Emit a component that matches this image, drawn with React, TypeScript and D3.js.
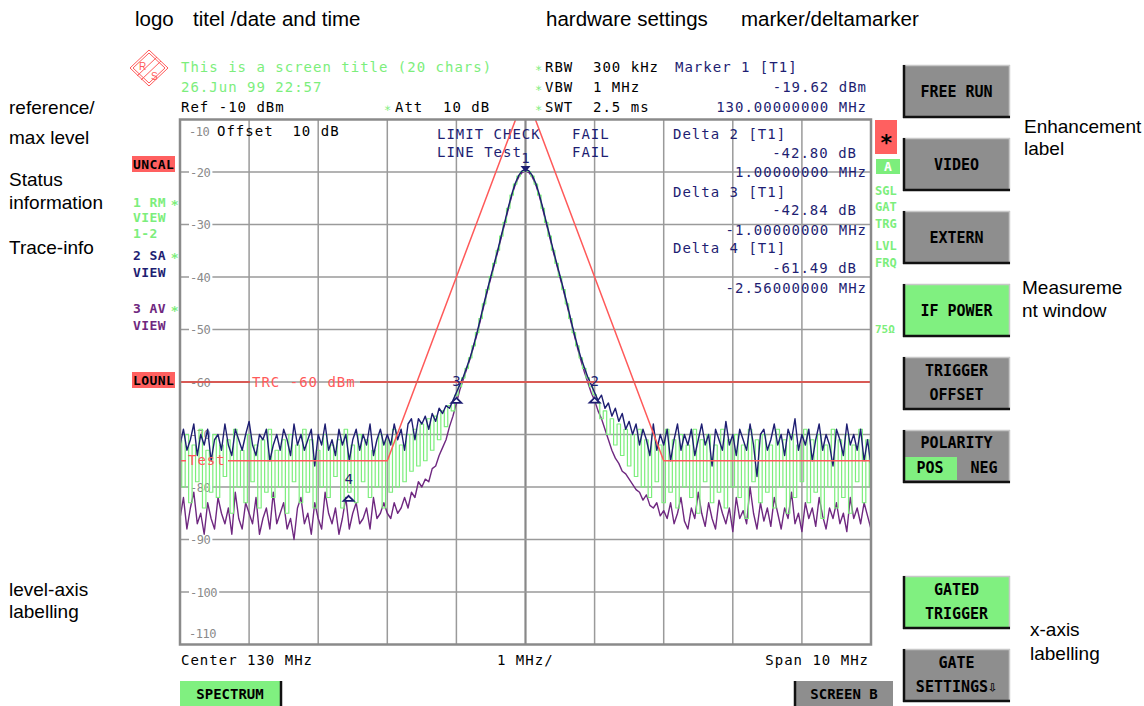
import React from 'react';
import * as d3 from 'd3';

// ---------- data ----------
const sweepMHz: number[] = d3.range(201).map((i) => -5 + i * 0.05); // sweep points, offset from 130 MHz

// Trace 1 (RMS, green)
const traceRM: number[] = [
  -71, -80, -70, -83, -72, -79, -69, -84, -73, -81,
  -70, -82, -72, -78, -71, -85, -69, -80, -73, -83,
  -70, -79, -72, -84, -71, -81, -69, -82, -73, -80,
  -71, -85, -70, -79, -72, -83, -69, -81, -71, -84,
  -73, -80, -70, -82, -72, -78, -71, -84, -69, -81,
  -72, -83, -70, -79, -71, -82, -73, -80, -70, -84,
  -71, -81, -69, -80, -72, -79, -70, -77, -69, -76,
  -68, -75, -67, -73, -66.5, -71, -65.5, -68.5, -64.5, -65.5, -62.5,
  -60.9, -59.2, -57.4, -55.4, -53.1, -50.6, -47.9, -45.1, -42.4, -39.9, -37.4, -34.9, -32.2, -29.6, -26.9, -24.4, -22.3, -20.8, -19.9,
  -19.6,
  -19.9, -20.8, -22.3, -24.4, -26.9, -29.6, -32.2, -34.9, -37.4, -39.9, -42.4, -45.1, -47.9, -50.6, -53.1, -55.4, -57.4, -59.2, -60.9,
  -62.4,
  -64, -67, -65.5, -70, -67, -72, -68, -74, -69, -76,
  -70, -78, -69, -80, -71, -82, -70, -79, -72, -83,
  -69, -81, -71, -84, -70, -80, -72, -82, -69, -85,
  -71, -79, -70, -83, -72, -81, -69, -84, -71, -80,
  -70, -82, -72, -86, -69, -79, -71, -83, -70, -81,
  -72, -84, -69, -80, -71, -85, -70, -82, -72, -79,
  -69, -83, -71, -81, -70, -86, -72, -80, -69, -84,
  -71, -82, -70, -85, -72, -79, -69, -83, -71, -80,
];

// Trace 2 (sample, navy)
const traceSA: number[] = [
  -72, -69, -73, -71, -68, -74, -70, -72, -69, -75,
  -71, -70, -73, -68, -72, -74, -69, -71, -73, -70,
  -67.5, -72, -74, -70, -71, -69, -75, -72, -70, -73,
  -69, -71, -74, -68, -72, -70, -73, -71, -69, -76,
  -70, -72, -68, -73, -71, -74, -69, -72, -70, -75,
  -71, -69, -73, -70, -72, -68, -74, -71, -69, -72,
  -70, -72, -68, -71, -69, -73, -68, -67, -71, -67,
  -68, -66.5, -69, -66, -67.5, -65, -66, -64.5, -65, -63.5, -62,
  -60.5, -59, -57.2, -55.3, -53, -50.5, -47.8, -45, -42.3, -39.8, -37.3, -34.8, -32.1, -29.5, -26.8, -24.3, -22.2, -20.7, -19.8,
  -19.5,
  -19.8, -20.7, -22.2, -24.3, -26.8, -29.5, -32.1, -34.8, -37.3, -39.8, -42.3, -45, -47.8, -50.5, -53, -55.3, -57.2, -59, -60.5,
  -62,
  -63.5, -62.5, -65, -64, -66.5, -65, -67.5, -66, -69, -67.5,
  -70, -68, -72, -69, -71, -74, -68, -73, -70, -72,
  -69, -75, -71, -68, -73, -70, -72, -69, -74, -71,
  -68, -72, -70, -76, -69, -71, -73, -67.5, -72, -70,
  -74, -69, -71, -73, -68, -72, -78, -70, -69, -73,
  -71, -68, -72, -70, -74, -69, -71, -67, -73, -70,
  -72, -69, -75, -71, -68, -73, -70, -72, -76, -69,
  -71, -74, -68, -72, -70, -73, -69, -75, -71, -76,
];

// Trace 3 (average, purple)
const traceAV: number[] = [
  -86, -82, -88, -84, -81, -87, -85, -89, -83, -86,
  -88, -82, -85, -87, -84, -89, -81, -86, -88, -83,
  -85, -87, -82, -89, -86, -84, -88, -81, -87, -85,
  -83, -88, -86, -90, -84, -82, -87, -85, -89, -83,
  -86, -88, -81, -85, -87, -84, -89, -86, -82, -88,
  -85, -83, -87, -86, -84, -88, -82, -86, -85, -83,
  -85, -86, -83, -85, -84, -82, -84, -81, -82, -79,
  -80, -78.5, -79, -76.5, -76, -74, -72.5, -71, -68.5, -66.5, -64,
  -61.5, -59.5, -57.5, -55.5, -53.2, -50.8, -48.1, -45.3, -42.6, -40.1, -37.6, -35.1, -32.4, -29.8, -27.1, -24.6, -22.5, -21, -20.1,
  -19.8,
  -20.1, -21, -22.5, -24.6, -27.1, -29.8, -32.4, -35.1, -37.6, -40.1, -42.6, -45.3, -48.1, -50.8, -53.4, -55.8, -58, -60, -62,
  -63.5,
  -65.5, -67, -69, -71, -73, -74.5, -75.5, -77, -77.5, -78.5,
  -79.5, -80.5, -81, -82.5, -81.5, -83.5, -84, -83, -85.5, -84.5,
  -86, -83, -87, -85, -82, -86.5, -88, -84, -86, -81,
  -85, -87.5, -83, -86, -88, -82.5, -85, -87, -84, -88.5,
  -82, -86, -84.5, -87, -80, -85, -88, -83, -86.5, -84,
  -87.5, -82, -85, -88, -84, -86, -81, -87, -85, -88.5,
  -83, -86, -84, -87.5, -82, -85.5, -88, -84, -86, -83,
  -87, -85, -88.5, -82, -86, -84, -87, -83, -85.5, -88,
];

const limitFreq = [-5, -2, 0, 2, 5];
const limitLevel = [-75, -75, -5, -75, -75];
const displayLineLevel = -60;

const markerIds = ['1', '2', '3', '4'];
const markerFreq = [0, 1, -1, -2.56];
const markerLevel = [-19.62, -62.42, -62.46, -81.11];

const softkeys = [
  ['FREE RUN'], ['VIDEO'], ['EXTERN'], ['IF POWER'], ['TRIGGER', 'OFFSET'], ['POLARITY'], [], ['GATED', 'TRIGGER'], ['GATE', 'SETTINGS⇩'],
];
const softkeyOn = [false, false, false, true, false, false, false, true, false];

// ---------- style ----------
const MONO = "'DejaVu Sans Mono', 'Liberation Mono', monospace";
const SANS = "Arial, 'Liberation Sans', sans-serif";
const GREEN = '#7CEE7C';
const NAVY = '#1E1E72';
const PURPLE = '#6F2880';
const RED = '#FF5A5A';
const GRID = '#9a9a9a';

const x = d3.scaleLinear().domain([-5, 5]).range([180, 871]);
const y = d3.scaleLinear().domain([-110, -10]).range([644.5, 119.5]);

const lineGen = d3
  .line<number>()
  .x((_, i) => x(sweepMHz[i]))
  .y((d) => y(d));

const stepGen = d3
  .line<number>()
  .x((_, i) => x(sweepMHz[i]))
  .y((d) => y(d))
  .curve(d3.curveStep);

const limitLine = d3
  .line<number>()
  .x((_, i) => x(limitFreq[i]))
  .y((d) => y(d));

const T = (props: any) => (
  <text fontFamily={MONO} fontSize={14} letterSpacing={1} style={{ whiteSpace: 'pre' }} {...props} />
);
const B = (props: any) => (
  <text fontFamily={MONO} fontSize={13} fontWeight="bold" letterSpacing={0.4} {...props} />
);
const A = (props: any) => <text fontFamily={SANS} fontSize={19} fill="#000" {...props} />;

function Softkey({ idx }: { idx: number }) {
  const lines = softkeys[idx];
  if (!lines.length) return null;
  const bx = 903;
  const by = 65 + idx * 73;
  const bw = 107;
  const bh = 53;
  const on = softkeyOn[idx];
  const isPol = lines[0] === 'POLARITY';
  return (
    <g>
      <rect x={bx} y={by} width={bw} height={bh} fill={on ? '#80F080' : '#8E8E8E'} />
      {isPol && <rect x={bx} y={by + 27} width={54} height={23} fill="#80F080" />}
      <line x1={bx} y1={by + 0.5} x2={bx + bw} y2={by + 0.5} stroke="#c8c8c8" strokeWidth={1.5} />
      <line x1={bx + bw - 0.5} y1={by} x2={bx + bw - 0.5} y2={by + bh} stroke="#c8c8c8" strokeWidth={1.5} />
      <line x1={bx + 1} y1={by} x2={bx + 1} y2={by + bh} stroke="#111" strokeWidth={2.5} />
      <line x1={bx} y1={by + bh - 1} x2={bx + bw} y2={by + bh - 1} stroke="#111" strokeWidth={2.5} />
      {isPol ? (
        <>
          <text x={bx + bw / 2} y={by + 18} textAnchor="middle" fontFamily={MONO} fontSize={15} fontWeight="bold" fill="#000">POLARITY</text>
          <text x={bx + 27} y={by + 43} textAnchor="middle" fontFamily={MONO} fontSize={15} fontWeight="bold" fill="#000">POS</text>
          <text x={bx + 81} y={by + 43} textAnchor="middle" fontFamily={MONO} fontSize={15} fontWeight="bold" fill="#000">NEG</text>
        </>
      ) : lines.length === 1 ? (
        <text x={bx + bw / 2} y={by + 32} textAnchor="middle" fontFamily={MONO} fontSize={15} fontWeight="bold" fill="#000">{lines[0]}</text>
      ) : (
        lines.map((l, k) => (
          <text key={k} x={bx + bw / 2} y={by + 19 + k * 24} textAnchor="middle" fontFamily={MONO} fontSize={15} fontWeight="bold" fill="#000">{l}</text>
        ))
      )}
    </g>
  );
}

export default function App() {
  const xGrid = x.ticks(10).filter((v) => v > -5 && v < 5);
  const yGrid = y.ticks(10).filter((v) => v > -110 && v < -10);
  const yDisp = y(displayLineLevel);
  return (
    <svg width={1144} height={706} style={{ position: 'absolute', left: 0, top: 0, background: '#fff' }}>
      <defs>
        <clipPath id="plotClip">
          <rect x={180} y={119.5} width={691} height={525} />
        </clipPath>
        <mask id="limMask">
          <rect x={0} y={0} width={1144} height={706} fill="#fff" />
          <rect x={186} y={450} width={42} height={20} fill="#000" />
        </mask>
      </defs>
      <rect width={1144} height={706} fill="#fff" />

      {/* annotations */}
      <A x={135} y={26} fontSize={20.5}>logo</A>
      <A x={193} y={26} fontSize={20.5}>titel /date and time</A>
      <A x={546} y={26} fontSize={20.5}>hardware settings</A>
      <A x={741} y={26} fontSize={20.5}>marker/deltamarker</A>
      <A x={9} y={114}>reference/</A>
      <A x={9} y={144}>max level</A>
      <A x={9} y={186}>Status</A>
      <A x={9} y={209}>information</A>
      <A x={9} y={254}>Trace-info</A>
      <A x={9} y={596}>level-axis</A>
      <A x={9} y={618}>labelling</A>
      <A x={1024} y={133}>Enhancement</A>
      <A x={1024} y={155}>label</A>
      <A x={1022} y={294}>Measureme</A>
      <A x={1022} y={317}>nt window</A>
      <A x={1030} y={636}>x-axis</A>
      <A x={1030} y={660}>labelling</A>

      {/* logo */}
      <g stroke={RED} fill="none" strokeWidth={1}>
        <path d="M149,50 L168,68 L149,86 L130,68 Z" />
        <path d="M149,53 L165,68 L149,83 L133,68 Z" />
        <line x1={137} y1={76} x2={157} y2={57} />
        <line x1={141} y1={80} x2={161} y2={61} />
      </g>
      <text x={139} y={70} fontFamily={SANS} fontSize={10} fill={RED}>R</text>
      <text x={151} y={80} fontFamily={SANS} fontSize={10} fill={RED}>S</text>

      {/* header */}
      <T x={181} y={72} fill={GREEN}>This is a screen title (20 chars)</T>
      <T x={181} y={92} fill={GREEN}>26.Jun 99 22:57</T>
      <T x={181} y={112} fill="#000">Ref -10 dBm</T>
      <T x={384} y={112} fill={GREEN} fontSize={12} letterSpacing={0}>∗</T>
      <T x={395} y={112} fill="#000">Att</T>
      <T x={443} y={112} fill="#000">10 dB</T>
      {['RBW', 'VBW', 'SWT'].map((l, k) => (
        <g key={l}>
          <T x={535} y={72 + 20 * k} fill={GREEN} fontSize={12} letterSpacing={0}>∗</T>
          <T x={545} y={72 + 20 * k} fill="#000">{l}</T>
        </g>
      ))}
      <T x={593} y={72} fill="#000">300 kHz</T>
      <T x={593} y={92} fill="#000">1 MHz</T>
      <T x={593} y={112} fill="#000">2.5 ms</T>
      <T x={675} y={72} fill={NAVY}>Marker 1 [T1]</T>
      <T x={867} y={92} fill={NAVY} textAnchor="end">-19.62 dBm</T>
      <T x={867} y={112} fill={NAVY} textAnchor="end">130.00000000 MHz</T>

      {/* left status */}
      <rect x={132} y={156} width={43} height={16} fill="#FF6060" />
      <B x={133} y={169} fill="#000">UNCAL</B>
      <B x={133} y={207} fill={GREEN}>1 RM</B>
      <B x={171} y={207} fill={GREEN}>∗</B>
      <B x={133} y={222} fill={GREEN}>VIEW</B>
      <B x={133} y={238} fill={GREEN}>1-2</B>
      <B x={133} y={260} fill={NAVY}>2 SA</B>
      <B x={171} y={260} fill={GREEN}>∗</B>
      <B x={133} y={277} fill={NAVY}>VIEW</B>
      <B x={133} y={313} fill={PURPLE}>3 AV</B>
      <B x={171} y={313} fill={GREEN}>∗</B>
      <B x={133} y={330} fill={PURPLE}>VIEW</B>
      <rect x={132} y={372} width={43} height={16} fill="#FF6060" />
      <B x={133} y={385} fill="#000">LOUNL</B>

      {/* right status */}
      <rect x={875} y={120} width={22} height={34} fill="#FF6060" />
      <text x={886} y={146} textAnchor="middle" fontFamily={MONO} fontSize={22} fontWeight="bold" fill="#000">∗</text>
      <rect x={876} y={159} width={24} height={15} fill={GREEN} />
      <B x={888} y={171} textAnchor="middle" fill="#fff">A</B>
      <B x={875} y={195} fill={GREEN} fontSize={12} letterSpacing={0}>SGL</B>
      <B x={875} y={211} fill={GREEN} fontSize={12} letterSpacing={0}>GAT</B>
      <B x={875} y={228} fill={GREEN} fontSize={12} letterSpacing={0}>TRG</B>
      <B x={875} y={250} fill={GREEN} fontSize={12} letterSpacing={0}>LVL</B>
      <B x={875} y={267} fill={GREEN} fontSize={12} letterSpacing={0}>FRQ</B>
      <B x={875} y={333} fill={GREEN} fontSize={11} letterSpacing={0}>75Ω</B>

      {/* softkeys */}
      {softkeys.map((_, i) => (
        <Softkey key={i} idx={i} />
      ))}

      {/* grid */}
      {xGrid.map((v) => (
        <line key={'x' + v} x1={x(v)} x2={x(v)} y1={119.5} y2={644.5} stroke={v === 0 ? '#888' : GRID} strokeWidth={v === 0 ? 2.2 : 1.5} />
      ))}
      {yGrid.map((v) => (
        <line key={'y' + v} x1={180} x2={871} y1={y(v)} y2={y(v)} stroke={GRID} strokeWidth={1.5} />
      ))}
      {yGrid.map((v) => {
        const s = String(v);
        return (
          <g key={'yl' + v}>
            <rect x={189} y={y(v) - 7} width={s.length * 6.8 + 3} height={14} fill="#fff" />
            <text x={190} y={y(v) + 4.5} fontFamily={MONO} fontSize={12} letterSpacing={-0.5} fill="#8a8a8a">{s}</text>
          </g>
        );
      })}
      <text x={189} y={136} fontFamily={MONO} fontSize={12} letterSpacing={-0.5} fill="#8a8a8a">-10</text>
      <text x={189} y={638} fontFamily={MONO} fontSize={12} letterSpacing={-0.5} fill="#8a8a8a">-110</text>

      {/* in-plot text */}
      <T x={217} y={136} fill="#000">Offset  10 dB</T>
      <T x={437} y={139} fill={NAVY}>LIMIT CHECK</T>
      <T x={572} y={139} fill={NAVY}>FAIL</T>
      <T x={437} y={157} fill={NAVY}>LINE Test</T>
      <T x={572} y={157} fill={NAVY}>FAIL</T>
      <T x={673} y={139} fill={NAVY}>Delta 2 [T1]</T>
      <T x={857} y={158} fill={NAVY} textAnchor="end">-42.80 dB</T>
      <T x={867} y={177} fill={NAVY} textAnchor="end">1.00000000 MHz</T>
      <T x={673} y={197} fill={NAVY}>Delta 3 [T1]</T>
      <T x={857} y={215} fill={NAVY} textAnchor="end">-42.84 dB</T>
      <T x={867} y={235} fill={NAVY} textAnchor="end">-1.00000000 MHz</T>
      <T x={673} y={253} fill={NAVY}>Delta 4 [T1]</T>
      <T x={857} y={273} fill={NAVY} textAnchor="end">-61.49 dB</T>
      <T x={867} y={293} fill={NAVY} textAnchor="end">-2.56000000 MHz</T>

      {/* traces */}
      <g clipPath="url(#plotClip)" fill="none" strokeLinejoin="round">
        <path d={lineGen(traceAV) || ''} stroke={PURPLE} strokeWidth={1.4} />
        <path d={stepGen(traceRM) || ''} stroke={GREEN} strokeWidth={1.2} />
        <path d={lineGen(traceSA) || ''} stroke={NAVY} strokeWidth={1.4} />
      </g>

      {/* limit line and display line */}
      <g clipPath="url(#plotClip)">
        <path d={limitLine(limitLevel) || ''} fill="none" stroke={RED} strokeWidth={1.5} mask="url(#limMask)" />
      </g>
      <T x={188} y={465} fill={RED}>Test</T>
      <line x1={x(-5)} x2={250} y1={yDisp} y2={yDisp} stroke="#D85A55" strokeWidth={2} />
      <line x1={360} x2={x(5)} y1={yDisp} y2={yDisp} stroke="#D85A55" strokeWidth={2} />
      <T x={252} y={yDisp + 5} fill={RED}>TRC -60 dBm</T>

      {/* markers */}
      {markerIds.map((id, i) => {
        const mx = x(markerFreq[i]);
        const my = y(markerLevel[i]);
        if (i === 0) {
          return (
            <g key={id}>
              <path d={`M${mx - 5},${my - 4} L${mx + 5},${my - 4} L${mx},${my + 2} Z`} fill={NAVY} />
              <T x={mx} y={my - 7} fill={NAVY} textAnchor="middle" letterSpacing={0}>{id}</T>
            </g>
          );
        }
        return (
          <g key={id}>
            <path d={`M${mx},${my + 3} L${mx + 5},${my + 8} L${mx - 5},${my + 8} Z`} fill="#fff" stroke={NAVY} strokeWidth={1.8} />
            <T x={mx} y={my - 9} fill={NAVY} textAnchor="middle" letterSpacing={0}>{id}</T>
          </g>
        );
      })}

      {/* frame */}
      <rect x={180} y={119.5} width={691} height={525} fill="none" stroke="#8a8a8a" strokeWidth={2.5} />

      {/* x-axis labelling */}
      <T x={181} y={665} fill="#000">Center 130 MHz</T>
      <T x={497} y={665} fill="#000">1 MHz/</T>
      <T x={869} y={665} fill="#000" textAnchor="end">Span 10 MHz</T>

      {/* bottom buttons */}
      <rect x={180} y={681} width={102} height={25} fill="#80F080" />
      <line x1={281} y1={681} x2={281} y2={706} stroke="#111" strokeWidth={2.5} />
      <text x={230} y={699} textAnchor="middle" fontFamily={MONO} fontSize={14} fontWeight="bold" fill="#000">SPECTRUM</text>
      <rect x={794} y={681} width={99} height={25} fill="#8E8E8E" />
      <line x1={795} y1={681} x2={795} y2={706} stroke="#111" strokeWidth={2.5} />
      <text x={844} y={699} textAnchor="middle" fontFamily={MONO} fontSize={14} fontWeight="bold" fill="#000">SCREEN B</text>
    </svg>
  );
}
